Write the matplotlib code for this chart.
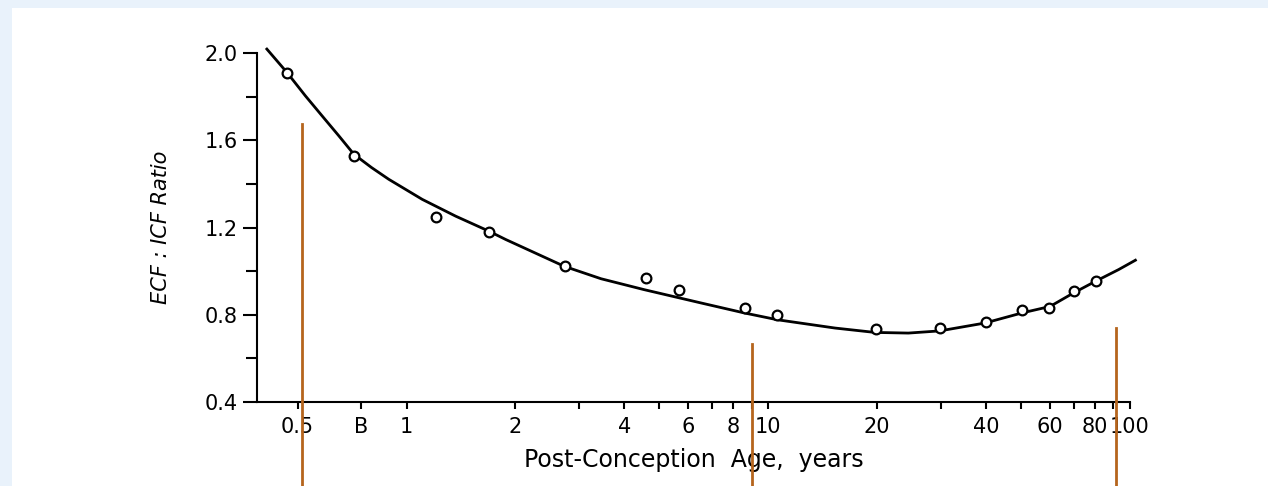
import matplotlib
matplotlib.use("Agg")
import matplotlib.pyplot as plt
from matplotlib.patches import Rectangle
from matplotlib.ticker import FixedLocator, NullFormatter

# measured points (post-conception age in years, ECF:ICF ratio)
age = [0.467, 0.715, 1.21, 1.69, 2.74, 4.59, 5.66, 8.6, 10.6,
       19.9, 29.8, 39.9, 50.2, 59.9, 70.2, 80.5]
ratio = [1.907, 1.528, 1.246, 1.180, 1.025, 0.969, 0.915, 0.831, 0.797,
         0.734, 0.739, 0.769, 0.820, 0.831, 0.910, 0.956]

# fitted curve
curve_age = [0.411, 0.467, 0.525, 0.584, 0.650, 0.715, 0.80, 0.893, 1.105, 1.367,
             1.69, 1.88, 2.73, 3.45, 4.54, 6.52, 8.6, 10.6, 15.3, 19.7,
             24.4, 29.8, 39.7, 50.2, 60.1, 69.8, 80.2, 93.0, 103.5]
curve_ratio = [2.018, 1.911, 1.804, 1.712, 1.620, 1.536, 1.475, 1.421, 1.329, 1.252,
               1.183, 1.145, 1.022, 0.965, 0.915, 0.854, 0.808, 0.777, 0.739, 0.719,
               0.716, 0.726, 0.762, 0.808, 0.838, 0.900, 0.953, 1.007, 1.05]

major_ticks = [0.5, 0.75, 1, 2, 4, 6, 8, 10, 20, 40, 60, 80, 100]
major_labels = ["0.5", "B", "1", "2", "4", "6", "8", "10", "20", "40", "60", "80", "100"]
minor_ticks = [3, 5, 7, 9, 30, 50, 70, 90]
y_major = [0.4, 0.8, 1.2, 1.6, 2.0]
y_minor = [0.6, 1.0, 1.4, 1.8]

# brown marker lines: x position, top of line
marks_x = [0.515, 9.04, 91.5]
marks_top = [1.674, 0.667, 0.740]

plt.rcParams["font.family"] = ["DejaVu Sans"]

fig = plt.figure(figsize=(12.68, 4.86), dpi=100, facecolor="#e9f2fb")
fig.patches.append(Rectangle((12 / 1268, 0), 1, 1 - 8 / 486, transform=fig.transFigure,
                             facecolor="white", edgecolor="none", zorder=-1))

ax = fig.add_axes([257 / 1268, 84 / 486, 873 / 1268, 349 / 486])
ax.set_zorder(2)
ax.set_facecolor("none")
ax.set_xscale("log")
ax.set_xlim(0.386, 100)
ax.set_ylim(0.4, 2.0)

ax.plot(curve_age, curve_ratio, color="black", lw=2, clip_on=False, zorder=3)
ax.plot(age, ratio, "o", mfc="white", mec="black", mew=1.6, ms=7, zorder=4)

for x, top in zip(marks_x, marks_top):
    ax.plot([x, x], [0.014, top], color="#b5651d", lw=2, clip_on=False, zorder=5)

for s in ["top", "right"]:
    ax.spines[s].set_visible(False)
for s in ["left", "bottom"]:
    ax.spines[s].set_linewidth(1.5)

ax.xaxis.set_major_locator(FixedLocator(major_ticks))
ax.set_xticklabels(major_labels)
ax.xaxis.set_minor_locator(FixedLocator(minor_ticks))
ax.xaxis.set_minor_formatter(NullFormatter())
ax.tick_params(axis="x", which="both", direction="out", length=5, width=1.5,
               labelsize=15, pad=6)

ax.yaxis.set_major_locator(FixedLocator(y_major))
ax.yaxis.set_minor_locator(FixedLocator(y_minor))
ax.set_yticklabels(["0.4", "0.8", "1.2", "1.6", "2.0"])
ax.tick_params(axis="y", which="major", direction="out", length=10, width=1.5,
               labelsize=15, pad=4)
ax.tick_params(axis="y", which="minor", direction="out", length=8, width=1.5)

ax.set_xlabel("Post-Conception  Age,  years", fontsize=17, labelpad=8)
ax.set_ylabel("ECF : ICF Ratio", fontsize=15, style="italic", labelpad=24)

fig.savefig("out.png", dpi=100, facecolor=fig.get_facecolor())
